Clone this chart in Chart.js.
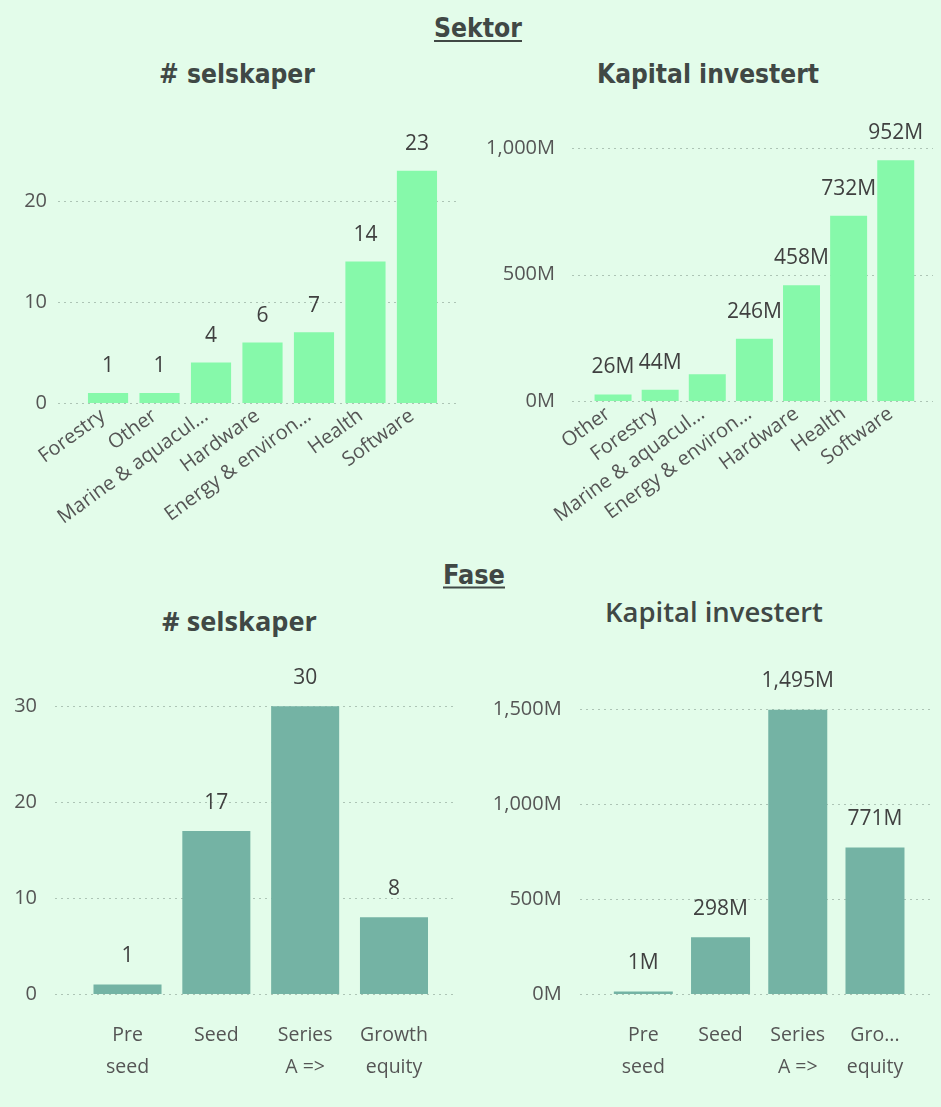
<!DOCTYPE html>
<html><head><meta charset="utf-8">
<script src="https://cdn.jsdelivr.net/npm/chart.js@4.4.1/dist/chart.umd.min.js"></script>
<style>
html,body{margin:0;padding:0;}
body{background:#e3fcea;width:941px;height:1107px;overflow:hidden;position:relative;font-family:'Open Sans',sans-serif;}
.t{position:absolute;white-space:nowrap;color:#404845;line-height:1;transform:translate(-50%,-50%);}
.u{text-decoration:underline;text-decoration-thickness:2px;text-underline-offset:3px;}
canvas{position:absolute;}
</style></head><body>
<div class="t u" id="tSektor">Sektor</div>
<div class="t" id="tS1">#&nbsp;selskaper</div>
<div class="t" id="tK1">Kapital investert</div>
<div class="t u" id="tFase">Fase</div>
<div class="t" id="tS2">#&nbsp;selskaper</div>
<div class="t" id="tK2">Kapital investert</div>
<canvas id="c1"></canvas>
<canvas id="c2"></canvas>
<canvas id="c3"></canvas>
<canvas id="c4"></canvas>
<script>
// ---- data ----
const sektorCountCategories = ['Forestry','Other','Marine & aquacul...','Hardware','Energy & environ...','Health','Software'];
const sektorCountValues = [1,1,4,6,7,14,23];
const sektorCountTicks = [0,10,20];

const sektorKapitalCategories = ['Other','Forestry','Marine & aquacul...','Energy & environ...','Hardware','Health','Software'];
const sektorKapitalValues = [26,44,106,246,458,732,952];
const sektorKapitalTicks = [0,500,1000];
const sektorKapitalHiddenLabels = [2];

const faseCountCategories = [['Pre','seed'],['Seed'],['Series','A =>'],['Growth','equity']];
const faseCountValues = [1,17,30,8];
const faseCountTicks = [0,10,20,30];

const faseKapitalCategories = [['Pre','seed'],['Seed'],['Series','A =>'],['Gro...','equity']];
const faseKapitalValues = [1,298,1495,771];
const faseKapitalTicks = [0,500,1000,1500];

// ---- titles ----
const mctx = document.createElement('canvas').getContext('2d');
function fitTitle(id, family, weight, cx, cy, targetW) {
  const el = document.getElementById(id);
  const txt = el.textContent;
  mctx.font = weight + ' 100px ' + family;
  const w = mctx.measureText(txt).width;
  const size = 100 * targetW / w;
  el.style.font = weight + ' ' + size.toFixed(2) + 'px ' + family;
  el.style.left = cx + 'px';
  el.style.top = cy + 'px';
}
const dinFam = '"DejaVu Sans Condensed", "DejaVu Sans"';
fitTitle('tSektor', dinFam, 'bold', 478, 28, 88);
fitTitle('tS1', dinFam, 'bold', 237, 74, 156);
fitTitle('tK1', dinFam, 'bold', 708, 74, 222);
fitTitle('tFase', dinFam, 'bold', 474, 574, 62);
fitTitle('tS2', '"Open Sans"', '700', 239.5, 620, 155);
fitTitle('tK2', '"Open Sans"', '600', 714, 611, 218);

// ---- charts ----
const fmtCount = v => String(v);
const fmtM = v => v.toLocaleString('en-US') + 'M';

function makeChart(id, cfg) {
  const c = document.getElementById(id);
  c.width = cfg.w; c.height = cfg.h;
  c.style.left = cfg.x + 'px'; c.style.top = cfg.y + 'px';
  const areaL = cfg.areaL - cfg.x, areaR = cfg.areaR - cfg.x;
  const areaT = cfg.areaT - cfg.y, areaB = cfg.areaB - cfg.y;
  const tickRight = cfg.tickRight - cfg.x;
  const gridL = cfg.gridL - cfg.x, gridR = cfg.gridR - cfg.x;
  const hidden = cfg.hidden || [];

  const gridPlugin = {
    id: 'dotgrid',
    beforeDatasetsDraw(chart) {
      const ctx = chart.ctx, ys = chart.scales.y;
      ctx.save();
      ctx.strokeStyle = 'rgba(120,140,128,0.5)';
      ctx.lineWidth = 1;
      ctx.setLineDash([2, 4]);
      ys.ticks.forEach(t => {
        const py = Math.round(ys.getPixelForValue(t.value)) + 0.5;
        ctx.beginPath(); ctx.moveTo(gridL, py); ctx.lineTo(gridR, py); ctx.stroke();
      });
      ctx.restore();
    }
  };
  const labelPlugin = {
    id: 'vlabels',
    afterDatasetsDraw(chart) {
      const ctx = chart.ctx, meta = chart.getDatasetMeta(0);
      ctx.save();
      ctx.fillStyle = '#404040';
      ctx.font = '21px "Open Sans"';
      ctx.textAlign = 'center';
      ctx.textBaseline = 'middle';
      meta.data.forEach((bar, i) => {
        if (hidden.includes(i)) return;
        ctx.fillText(cfg.fmt(cfg.values[i]), bar.x, bar.y - cfg.labelOff);
      });
      ctx.restore();
    }
  };

  new Chart(c, {
    type: 'bar',
    data: {
      labels: cfg.labels,
      datasets: [{
        data: cfg.values,
        backgroundColor: cfg.color,
        categoryPercentage: cfg.catPct,
        barPercentage: 1,
        minBarLength: 2.5
      }]
    },
    options: {
      responsive: false,
      animation: false,
      events: [],
      layout: { autoPadding: false, padding: { left: 0, right: cfg.w - areaR, top: areaT, bottom: 0 } },
      plugins: { legend: { display: false }, tooltip: { enabled: false } },
      scales: {
        x: {
          grid: { display: false, drawTicks: false },
          border: { display: false },
          ticks: {
            autoSkip: false,
            maxRotation: cfg.rot, minRotation: cfg.rot,
            padding: cfg.xPad,
            labelOffset: cfg.xShift || 0,
            color: '#555555',
            font: { family: 'Open Sans', size: cfg.xFont, lineHeight: cfg.xLH }
          },
          afterFit: s => { s.height = cfg.h - areaB; s.paddingLeft = 0; s.paddingRight = 0; }
        },
        y: {
          min: 0, max: cfg.max,
          grid: { display: false, drawTicks: false },
          border: { display: false },
          afterBuildTicks: s => { s.ticks = cfg.ticks.map(v => ({ value: v })); },
          ticks: {
            padding: areaL - tickRight,
            color: '#555555',
            font: { family: 'Open Sans', size: 20 },
            callback: v => cfg.fmt(v)
          },
          afterFit: s => { s.width = areaL; s.paddingTop = 0; s.paddingBottom = 0; }
        }
      }
    },
    plugins: [gridPlugin, labelPlugin]
  });
}

const green = '#86f9aa';
const teal = '#74b3a4';

makeChart('c1', {
  x: 0, y: 100, w: 470, h: 440,
  areaL: 82.3, areaR: 442.7, areaT: 403 - 25 * 10.1, areaB: 403, max: 25,
  tickRight: 47, gridL: 58, gridR: 457,
  labels: sektorCountCategories, values: sektorCountValues, ticks: sektorCountTicks,
  fmt: fmtCount, color: green, catPct: 0.78,
  rot: 36, xPad: 1, xShift: -5, xFont: 20, xLH: 1.2, labelOff: 26.5
});
makeChart('c2', {
  x: 470, y: 100, w: 471, h: 440,
  areaL: 589.5, areaR: 919.3, areaT: 401 - 1050 * 0.253, areaB: 401, max: 1050,
  tickRight: 555, gridL: 572, gridR: 933,
  labels: sektorKapitalCategories, values: sektorKapitalValues, ticks: sektorKapitalTicks,
  hidden: sektorKapitalHiddenLabels,
  fmt: fmtM, color: green, catPct: 0.785,
  rot: 36, xPad: 1, xShift: -5, xFont: 20, xLH: 1.2, labelOff: 27
});
makeChart('c3', {
  x: 0, y: 640, w: 470, h: 467,
  areaL: 83.1, areaR: 438.4, areaT: 994 - 32 * 9.59, areaB: 994, max: 32,
  tickRight: 37, gridL: 55, gridR: 455,
  labels: faseCountCategories, values: faseCountValues, ticks: faseCountTicks,
  fmt: fmtCount, color: teal, catPct: 0.766,
  rot: 0, xPad: 25, xFont: 19.5, xLH: '32px', labelOff: 28
});
makeChart('c4', {
  x: 470, y: 640, w: 471, h: 467,
  areaL: 604.7, areaR: 913.6, areaT: 994 - 1650 * 0.19013, areaB: 994, max: 1650,
  tickRight: 561.7, gridL: 580, gridR: 932,
  labels: faseKapitalCategories, values: faseKapitalValues, ticks: faseKapitalTicks,
  fmt: fmtM, color: teal, catPct: 0.764,
  rot: 0, xPad: 25, xFont: 19.5, xLH: '32px', labelOff: 28.5
});
</script>
</body></html>
